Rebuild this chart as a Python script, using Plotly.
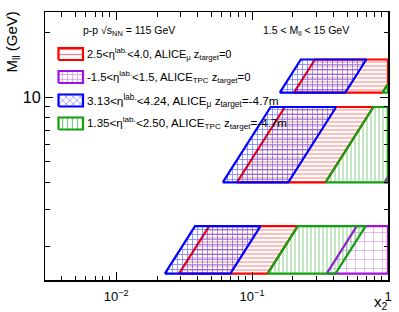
import math
import plotly.graph_objects as go

# ---------------- data ----------------
sqrt_s = 115.0            # GeV
y_shift = 4.8             # eta_lab -> y_cms shift
mass_bands = [(1.5, 2.5), (4.0, 9.0), (10.5, 15.0)]   # GeV

names = [
    "2.5&lt;η<sup>lab.</sup>&lt;4.0, ALICE<sub>μ</sub> z<sub>target</sub>=0",
    "-1.5&lt;η<sup>lab.</sup>&lt;1.5, ALICE<sub>TPC</sub> z<sub>target</sub>=0",
    "3.13&lt;η<sup>lab.</sup>&lt;4.24, ALICE<sub>μ</sub> z<sub>target</sub>=-4.7m",
    "1.35&lt;η<sup>lab.</sup>&lt;2.50, ALICE<sub>TPC</sub> z<sub>target</sub>=-4.7m",
]
eta_lo = [2.5, -1.5, 3.13, 1.35]
eta_hi = [4.0, 1.5, 4.24, 2.50]
colors = ["#ff0000", "#a010e0", "#0000ff", "#10a010"]
patterns = ["-", "+", "+", "|"]
pat_size = [4, 9, 5, 4]
pat_solid = [0.25, 0.12, 0.3, 0.25]
legend_patterns = ["-", "+", "x", "|"]
legend_font = [11.0, 11.3, 11.8, 11.6]

x_ticks = [0.01, 0.1, 1]
x_ticktext = ["10<sup>−2</sup>", "10<sup>−1</sup>", "1"]

# ---------------- geometry helpers ----------------
L, R, T, B = 45, 388, 12, 280      # plot frame in pixels
W, H = 399, 312


def fx(px):
    return (px - L) / (R - L)


def fy(py):
    return (B - py) / (B - T)


def x2(m, y):
    return m / sqrt_s * math.exp(-y)


def clip_right(pts, xmax=1.0):
    out = []
    n = len(pts)
    for i in range(n):
        p, q = pts[i], pts[(i + 1) % n]
        pin, qin = p[0] <= xmax, q[0] <= xmax
        if pin:
            out.append(p)
        if pin != qin:
            lp, lq, lx = math.log10(p[0]), math.log10(q[0]), math.log10(xmax)
            t = (lx - lp) / (lq - lp)
            ly = math.log10(p[1]) + t * (math.log10(q[1]) - math.log10(p[1]))
            out.append((xmax, 10 ** ly))
    return out


fig = go.Figure()
for k in range(4):
    ylo = eta_lo[k] - y_shift
    yhi = eta_hi[k] - y_shift
    xs, ys = [], []
    for (mlo, mhi) in mass_bands:
        pts = [(x2(mlo, yhi), mlo), (x2(mlo, ylo), mlo),
               (x2(mhi, ylo), mhi), (x2(mhi, yhi), mhi)]
        pts = clip_right(pts)
        if not pts:
            continue
        xs += [p[0] for p in pts] + [pts[0][0], None]
        ys += [p[1] for p in pts] + [pts[0][1], None]
    fig.add_trace(go.Scatter(
        x=xs, y=ys, mode="lines", fill="toself",
        line=dict(color=colors[k], width=2.2),
        fillcolor="rgba(0,0,0,0)",
        fillpattern=dict(shape=patterns[k], fgcolor=colors[k],
                         bgcolor="rgba(0,0,0,0)", size=pat_size[k],
                         solidity=pat_solid[k]),
        name=names[k], showlegend=False, hoverinfo="skip",
    ))

font = "Liberation Sans, Arial, sans-serif"

# ---------------- manual ROOT-style legend ----------------
leg_centers = [54, 77, 100.5, 123.5]
box_x0, box_x1, box_h = 58.5, 83, 12
annotations = []
for k in range(4):
    yc = leg_centers[k]
    bx = [fx(box_x0), fx(box_x1), fx(box_x1), fx(box_x0), fx(box_x0)]
    by = [fy(yc + box_h / 2), fy(yc + box_h / 2), fy(yc - box_h / 2),
          fy(yc - box_h / 2), fy(yc + box_h / 2)]
    fig.add_trace(go.Scatter(
        x=bx, y=by, xaxis="x2", yaxis="y2", mode="lines", fill="toself",
        line=dict(color=colors[k], width=2.2),
        fillcolor="rgba(0,0,0,0)",
        fillpattern=dict(shape=legend_patterns[k], fgcolor=colors[k],
                         bgcolor="rgba(0,0,0,0)", size=5, solidity=0.25),
        showlegend=False, hoverinfo="skip",
    ))
    annotations.append(dict(
        text=names[k], x=fx(86), y=fy(yc), xref="paper", yref="paper",
        xanchor="left", yanchor="middle", showarrow=False, borderpad=0,
        font=dict(family=font, size=legend_font[k], color="black")))

annotations += [
    dict(text="p-p √s<sub>NN</sub> = 115 GeV", x=fx(82), y=fy(31),
         xref="paper", yref="paper", xanchor="left", yanchor="middle",
         showarrow=False, borderpad=0, font=dict(family=font, size=10.5)),
    dict(text="1.5 &lt; M<sub>ll</sub> &lt; 15 GeV", x=fx(262), y=fy(31),
         xref="paper", yref="paper", xanchor="left", yanchor="middle",
         showarrow=False, borderpad=0, font=dict(family=font, size=10.5)),
    dict(text="M<sub>ll</sub> (GeV)", x=fx(12), y=fy(11), textangle=-90,
         xref="paper", yref="paper", xanchor="center", yanchor="top",
         showarrow=False, borderpad=0, font=dict(family=font, size=15)),
    dict(text="x<sub>2</sub>", x=fx(389), y=fy(302),
         xref="paper", yref="paper", xanchor="right", yanchor="middle",
         showarrow=False, borderpad=0, font=dict(family=font, size=15)),
]

axis_common = dict(
    type="log", showgrid=False, zeroline=False, showline=True,
    linecolor="black", linewidth=1.5, mirror="allticks",
    ticks="inside", ticklen=8, tickwidth=1, tickcolor="black",
    minor=dict(ticks="inside", ticklen=4.5, tickwidth=1, tickcolor="black",
               showgrid=False, dtick="D1"),
    tickfont=dict(family=font, size=13, color="black"),
    automargin=False,
)

fig.update_layout(
    width=W, height=H,
    margin=dict(l=L, r=W - R, t=T, b=H - B),
    paper_bgcolor="white", plot_bgcolor="white",
    font=dict(family=font, color="black"),
    showlegend=False,
    xaxis=dict(axis_common, range=[math.log10(0.003), 0],
               tickvals=x_ticks, ticktext=x_ticktext, ticklabelstandoff=4),
    yaxis=dict(axis_common, range=[math.log10(1.4), math.log10(25)],
               dtick=1, exponentformat="power"),
    xaxis2=dict(overlaying="x", range=[0, 1], visible=False, fixedrange=True),
    yaxis2=dict(overlaying="y", range=[0, 1], visible=False, fixedrange=True),
    annotations=annotations,
)

fig.write_html("out.html",
               config={"displayModeBar": False, "staticPlot": True},
               post_script="document.body.style.margin='0px';"
                           "document.body.style.overflow='hidden';")
